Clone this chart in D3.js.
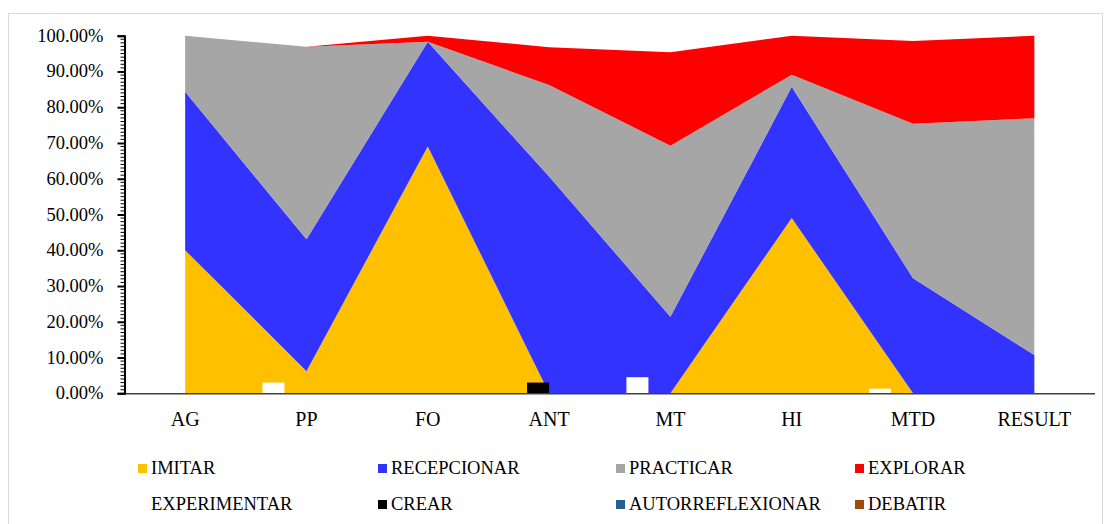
<!DOCTYPE html>
<html><head><meta charset="utf-8">
<script src="https://cdn.jsdelivr.net/npm/d3@7"></script>
<style>
html,body{margin:0;padding:0;background:#fff;}
</style></head>
<body>
<svg id="chart" width="1110" height="524"></svg>
<script>
const categories = ["AG","PP","FO","ANT","MT","HI","MTD","RESULT"];
// Area series (percent)
const imitar      = [40.0, 6.2, 69.0, 0, 0, 49.0, 0, 0];
const recepcionar = [44.3, 36.9, 29.3, 60.6, 21.4, 36.7, 32.2, 10.7];
const practicar   = [15.7, 53.8, 0, 25.6, 47.8, 3.4, 43.2, 66.2];
const explorar    = [0, 0, 1.7, 10.6, 26.2, 10.9, 23.1, 23.1];
// Column series (percent)
const experimentar     = [0, 3.0, 0, 0, 4.5, 0, 1.3, 0];
const crear            = [0, 0, 0, 3.0, 0, 0, 0, 0];
const autorreflexionar = [0, 0, 0, 0, 0, 0, 0, 0];
const debatir          = [0, 0, 0, 0, 0, 0, 0, 0];
const yTicks = [0,10,20,30,40,50,60,70,80,90,100];

const areaSeries = [
  {name:"IMITAR", values:imitar, color:"#FFC000"},
  {name:"RECEPCIONAR", values:recepcionar, color:"#3333FF"},
  {name:"PRACTICAR", values:practicar, color:"#A6A6A6"},
  {name:"EXPLORAR", values:explorar, color:"#FF0000"}
];
const barSeries = [
  {name:"EXPERIMENTAR", values:experimentar, color:"#FFFFFF"},
  {name:"CREAR", values:crear, color:"#000000"},
  {name:"AUTORREFLEXIONAR", values:autorreflexionar, color:"#255E91"},
  {name:"DEBATIR", values:debatir, color:"#9E480E"}
];

const svg = d3.select("#chart");
function addText(xp, yp, str, size, anchor) {
  return svg.append("text").attr("x", xp).attr("y", yp)
    .attr("text-anchor", anchor || "start")
    .attr("font-family", "Liberation Serif").attr("font-size", size)
    .style("font-family", '"Liberation Serif"').style("font-size", size + "px")
    .attr("fill", "#000").text(str);
}

// outer border
svg.append("rect").attr("x",8.5).attr("y",13.5).attr("width",1094).attr("height",530)
  .attr("fill","#fff").attr("stroke","#D9D9D9").attr("stroke-width",1);

const x0 = 124.5, x1 = 1095;
const x = d3.scaleBand().domain(categories).range([x0, x1]).paddingInner(0).paddingOuter(0);
const y = d3.scaleLinear().domain([0,100]).range([393.3, 35.7]);
const cx = c => x(c) + x.bandwidth()/2;

// stacked areas
const rows = categories.map((c,i) => {
  const r = {cat:c};
  areaSeries.forEach(s => r[s.name] = s.values[i]);
  return r;
});
const stacked = d3.stack().keys(areaSeries.map(s=>s.name))(rows);
const area = d3.area()
  .x(d => cx(d.data.cat))
  .y0(d => y(d[0]))
  .y1(d => y(d[1]));
svg.append("g").selectAll("path").data(stacked).join("path")
  .attr("d", area)
  .attr("fill", (d,i) => areaSeries[i].color);

// clustered columns
const xb = d3.scaleBand().domain(barSeries.map(s=>s.name)).range([-44,44]).padding(0);
barSeries.forEach(s => {
  svg.append("g").selectAll("rect").data(categories.map((c,i)=>({c, v:s.values[i]})).filter(d=>d.v>0))
    .join("rect")
    .attr("x", d => cx(d.c) + xb(s.name))
    .attr("width", xb.bandwidth())
    .attr("y", d => y(d.v))
    .attr("height", d => y(0) - y(d.v))
    .attr("fill", s.color);
});

// x axis line
svg.append("line").attr("x1",x0).attr("x2",x1).attr("y1",y(0)+0.5).attr("y2",y(0)+0.5)
  .attr("stroke","#404040").attr("stroke-width",1.5);

// y axis (ticks via d3 axis, labels as direct svg texts)
const yAxisG = svg.append("g").attr("transform",`translate(${x0},0)`);
const minor = d3.range(0,101,1).filter(v => v%10 !== 0);
yAxisG.selectAll("line.minor").data(minor).join("line")
  .attr("x1",-4).attr("x2",0).attr("y1",d=>y(d)).attr("y2",d=>y(d))
  .attr("stroke","#000").attr("stroke-width",1);
const yAxis = d3.axisLeft(y).tickValues(yTicks).tickSize(7).tickFormat("");
yAxisG.call(yAxis);
yAxisG.select(".domain").attr("stroke","#000").attr("stroke-width",2);
yAxisG.selectAll(".tick line").attr("stroke","#000").attr("stroke-width",2);
yAxisG.selectAll(".tick text").remove();
yTicks.forEach(t => addText(x0 - 21, y(t) + 6, d3.format(".2f")(t) + "%", 18.5, "end"));

// x labels
categories.forEach(c => addText(cx(c), 426, c, 20, "middle"));

// legend
const legendItems = [...areaSeries, ...barSeries];
const colX = [138, 378, 616, 855];
const rowY = [474, 510];
legendItems.forEach((s,i) => {
  const col = i % 4, row = Math.floor(i/4);
  svg.append("rect").attr("x", colX[col]).attr("y", rowY[row]-10).attr("width",9).attr("height",9)
    .attr("fill", s.color);
  addText(colX[col]+13, rowY[row], s.name, 18.5);
});
</script>
</body></html>
